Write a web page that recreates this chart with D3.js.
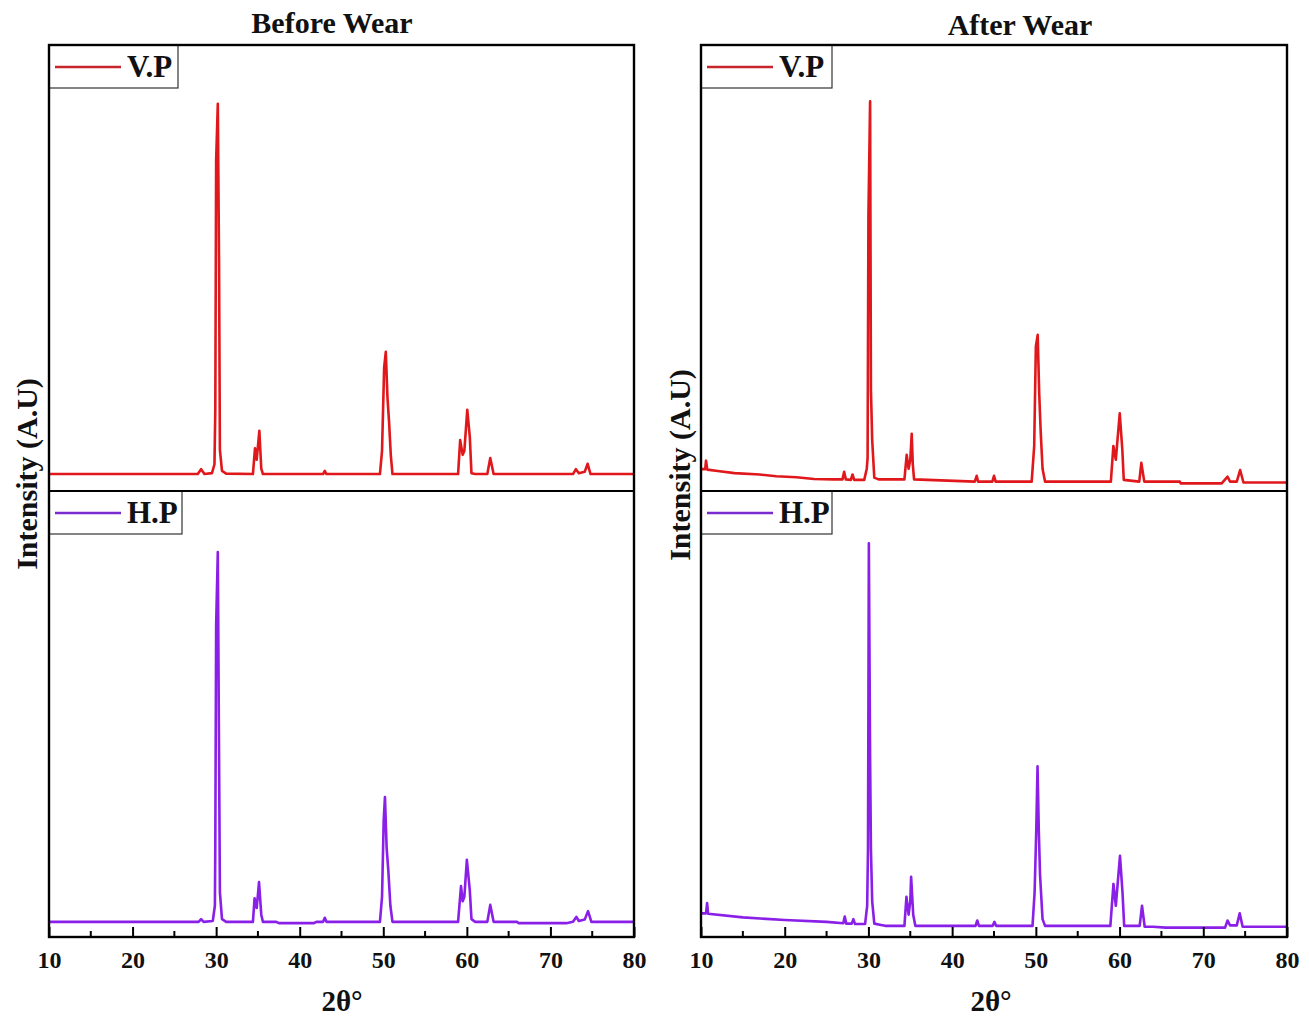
<!DOCTYPE html>
<html>
<head>
<meta charset="utf-8">
<script src="https://cdn.jsdelivr.net/npm/d3@7"></script>
<style>
  body { margin: 0; background: #fff; }
  svg text { font-family: "Liberation Serif", "Times New Roman", serif; font-weight: bold; fill: #111; }
</style>
</head>
<body>
<svg id="chart" width="1309" height="1020"></svg>
<script>
// tick labels and series (2θ, intensity in a.u.)
const xTicks = [10, 20, 30, 40, 50, 60, 70, 80];
const xMinorTicks = [15, 25, 35, 45, 55, 65, 75];
const panelTitles = ['Before Wear', 'After Wear'];
const seriesNames = ['V.P', 'H.P'];

const beforeVP = [
  [10, 3.8], [27.8, 3.8], [28.2, 4.9], [28.6, 3.8], [29.5, 4.0], [29.8, 6], [29.9, 18.2],
  [30.0, 74.2], [30.2, 86.8], [30.35, 50.7], [30.45, 9.2], [30.7, 4.5], [31.2, 3.9],
  [34.4, 3.8], [34.65, 9.6], [34.85, 7], [35.0, 10], [35.17, 13.5], [35.4, 5], [35.6, 3.8],
  [42.8, 3.8], [43.0, 4.5], [43.2, 3.8],
  [49.6, 3.8], [49.85, 9], [50.1, 27.6], [50.3, 31.2], [50.5, 21], [50.7, 15.2], [50.9, 8], [51.1, 3.8],
  [58.95, 3.8], [59.2, 11.4], [59.5, 8.1], [59.7, 9], [60.05, 18.2], [60.35, 12.2], [60.55, 4], [61.0, 3.8],
  [62.45, 3.8], [62.8, 7.4], [63.2, 3.8],
  [72.7, 3.8], [73.05, 4.9], [73.4, 4.0], [74.1, 4.3], [74.45, 6.1], [74.8, 3.8], [80, 3.8]
];

const beforeHP = [
  [10, 3.4], [27.9, 3.4], [28.2, 4.0], [28.5, 3.4], [29.6, 3.6], [29.85, 7], [29.9, 20.6],
  [30.0, 70], [30.2, 86.3], [30.35, 40.1], [30.45, 10], [30.7, 4], [31.2, 3.4],
  [34.4, 3.4], [34.6, 8.7], [34.85, 6.5], [35.0, 9.5], [35.13, 12.3], [35.4, 5], [35.6, 3.4],
  [37.2, 3.4], [37.5, 3.1], [41.7, 3.1], [42.0, 3.4], [42.8, 3.4], [43.0, 4.3], [43.2, 3.4],
  [49.6, 3.4], [49.85, 9], [50.05, 26.2], [50.2, 31.4], [50.4, 20], [50.6, 15.0], [50.85, 7], [51.1, 3.4],
  [58.95, 3.4], [59.3, 11.4], [59.5, 8], [59.7, 9], [60.0, 17.3], [60.35, 10.5], [60.55, 4], [61.0, 3.4],
  [62.45, 3.4], [62.8, 7.2], [63.2, 3.4],
  [66.0, 3.4], [66.2, 3.1], [71.9, 3.1], [72.7, 3.4], [73.1, 4.5], [73.4, 3.6], [74.1, 3.9], [74.5, 5.8], [74.9, 3.4], [80, 3.4]
];

const afterVP = [
  [10, 4.9], [10.5, 4.9], [10.6, 6.8], [10.75, 4.8], [12, 4.5], [14, 4.0], [17, 3.7], [19, 3.3],
  [21.4, 3.1], [23.5, 2.7], [25.8, 2.6], [26.9, 2.6], [27.1, 4.3], [27.3, 2.6], [27.9, 2.5], [28.1, 3.7], [28.3, 2.5],
  [29.5, 2.5], [29.8, 5], [29.9, 7.4], [30.0, 61.9], [30.2, 87.4], [30.3, 22.6], [30.45, 11.4], [30.7, 3], [31.2, 2.6],
  [34.3, 2.6], [34.57, 8.1], [34.8, 5], [35.0, 7], [35.17, 12.8], [35.3, 6], [35.45, 2.6],
  [42.7, 2.1], [42.93, 3.4], [43.1, 2.1], [44.8, 2.1], [45.0, 3.4], [45.2, 2.1],
  [49.5, 2.1], [49.8, 10], [50.0, 32.4], [50.22, 35.0], [50.4, 21.9], [50.58, 13.2], [50.8, 5], [51.1, 2.1],
  [58.96, 2.1], [59.26, 10.1], [59.55, 7.0], [60.02, 17.4], [60.33, 9.2], [60.5, 2.5],
  [62.35, 2.1], [62.6, 6.3], [62.95, 2.1],
  [67.2, 2.1], [67.3, 1.7], [72.2, 1.7], [72.9, 3.2], [73.2, 2.1], [74.0, 2.1], [74.4, 4.7], [74.8, 1.9], [80, 1.9]
];

const afterHP = [
  [10, 5.3], [10.6, 5.3], [10.73, 7.6], [10.85, 5.2], [15, 4.4], [20, 3.8], [25, 3.4], [27.0, 3.1],
  [27.17, 4.6], [27.35, 3.0], [28.0, 3.0], [28.2, 4.0], [28.4, 2.9],
  [29.6, 2.9], [29.85, 7], [29.95, 20], [30.05, 88.3], [30.2, 40], [30.3, 19.5], [30.45, 8], [30.7, 3], [31.5, 2.7], [32.0, 2.5],
  [34.3, 2.5], [34.54, 9.0], [34.8, 5], [35.0, 8], [35.1, 13.5], [35.35, 5], [35.6, 2.5],
  [42.8, 2.5], [43.0, 3.7], [43.2, 2.5], [44.85, 2.5], [45.05, 3.4], [45.25, 2.5],
  [49.6, 2.5], [49.85, 10], [50.05, 24], [50.2, 38.3], [50.35, 24], [50.5, 13.9], [50.8, 4], [51.1, 2.5],
  [58.9, 2.5], [59.27, 11.9], [59.55, 7], [60.05, 18.2], [60.35, 10], [60.55, 2.5],
  [62.4, 2.5], [62.68, 7.0], [63.0, 2.3], [64.0, 2.3], [65.5, 2.1],
  [72.6, 2.1], [72.9, 3.7], [73.2, 2.6], [74.0, 2.6], [74.35, 5.3], [74.7, 2.3], [80, 2.3]
];

const svg = d3.select('#chart');
const red = '#e0181c';
const purple = '#8a1fe8';

// one column per wear state, two stacked plots inside
const panels = [
  { title: panelTitles[0], x0: 49, x1: 634, titleX: 332, titleY: 33, yLabelX: 37, yLabelY: 474, xLabelX: 342, legendW: [129, 133], data: [beforeVP, beforeHP] },
  { title: panelTitles[1], x0: 701, x1: 1287, titleX: 1020, titleY: 35, yLabelX: 690, yLabelY: 465, xLabelX: 991, legendW: [131, 131], data: [afterVP, afterHP] }
];
const rows = [
  { y0: 45, y1: 491, color: red, legendColor: '#c8262b' },
  { y0: 491, y1: 937, color: purple, legendColor: '#7a2bd0' }
];

panels.forEach(p => {
  const x = d3.scaleLinear().domain([10, 80]).range([p.x0, p.x1]);

  rows.forEach((r, i) => {
    const y = d3.scaleLinear().domain([0, 100]).range([r.y1, r.y0]);
    const line = d3.line().x(d => x(d[0])).y(d => y(d[1]));

    svg.append('path')
      .datum(p.data[i])
      .attr('d', line)
      .attr('fill', 'none')
      .attr('stroke', r.color)
      .attr('stroke-width', 2.6)
      .attr('stroke-linejoin', 'round');

    // legend box in the top-left corner
    const lg = svg.append('g').attr('transform', `translate(${p.x0},${r.y0})`);
    lg.append('rect')
      .attr('width', p.legendW[i])
      .attr('height', 43)
      .attr('fill', '#fff')
      .attr('stroke', '#333')
      .attr('stroke-width', 1.2);
    lg.append('line')
      .attr('x1', 6).attr('x2', 72)
      .attr('y1', 22).attr('y2', 22)
      .attr('stroke', r.legendColor)
      .attr('stroke-width', 2.5);
    lg.append('text')
      .attr('x', 78).attr('y', 32)
      .style('font-size', '31px')
      .text(seriesNames[i]);
  });

  // frame and divider
  svg.append('rect')
    .attr('x', p.x0).attr('y', rows[0].y0)
    .attr('width', p.x1 - p.x0).attr('height', rows[1].y1 - rows[0].y0)
    .attr('fill', 'none').attr('stroke', '#000').attr('stroke-width', 2.4);
  svg.append('line')
    .attr('x1', p.x0).attr('x2', p.x1)
    .attr('y1', rows[0].y1).attr('y2', rows[0].y1)
    .attr('stroke', '#000').attr('stroke-width', 2);

  // bottom axis, ticks pointing inward
  const axis = svg.append('g')
    .attr('transform', `translate(0,${rows[1].y1})`)
    .call(d3.axisBottom(x).tickValues(xTicks).tickSizeInner(-10).tickSizeOuter(0).tickPadding(14));
  axis.select('.domain').remove();
  axis.selectAll('.tick line').attr('stroke', '#000').attr('stroke-width', 2);
  axis.selectAll('.tick text')
    .style('font-family', '"Liberation Serif", serif')
    .style('font-weight', 'bold')
    .style('font-size', '24px')
    .attr('fill', '#111');
  svg.append('g')
    .selectAll('line')
    .data(xMinorTicks)
    .join('line')
    .attr('x1', d => x(d)).attr('x2', d => x(d))
    .attr('y1', rows[1].y1).attr('y2', rows[1].y1 - 6)
    .attr('stroke', '#000').attr('stroke-width', 2);

  svg.append('text')
    .attr('x', p.titleX).attr('y', p.titleY)
    .attr('text-anchor', 'middle')
    .style('font-size', '30px')
    .text(p.title);

  svg.append('text')
    .attr('x', p.xLabelX).attr('y', 1011)
    .attr('text-anchor', 'middle')
    .style('font-size', '29px')
    .text('2θ°');

  svg.append('text')
    .attr('transform', `translate(${p.yLabelX},${p.yLabelY}) rotate(-90)`)
    .attr('text-anchor', 'middle')
    .style('font-size', '30px')
    .text('Intensity (A.U)');
});
</script>
</body>
</html>
